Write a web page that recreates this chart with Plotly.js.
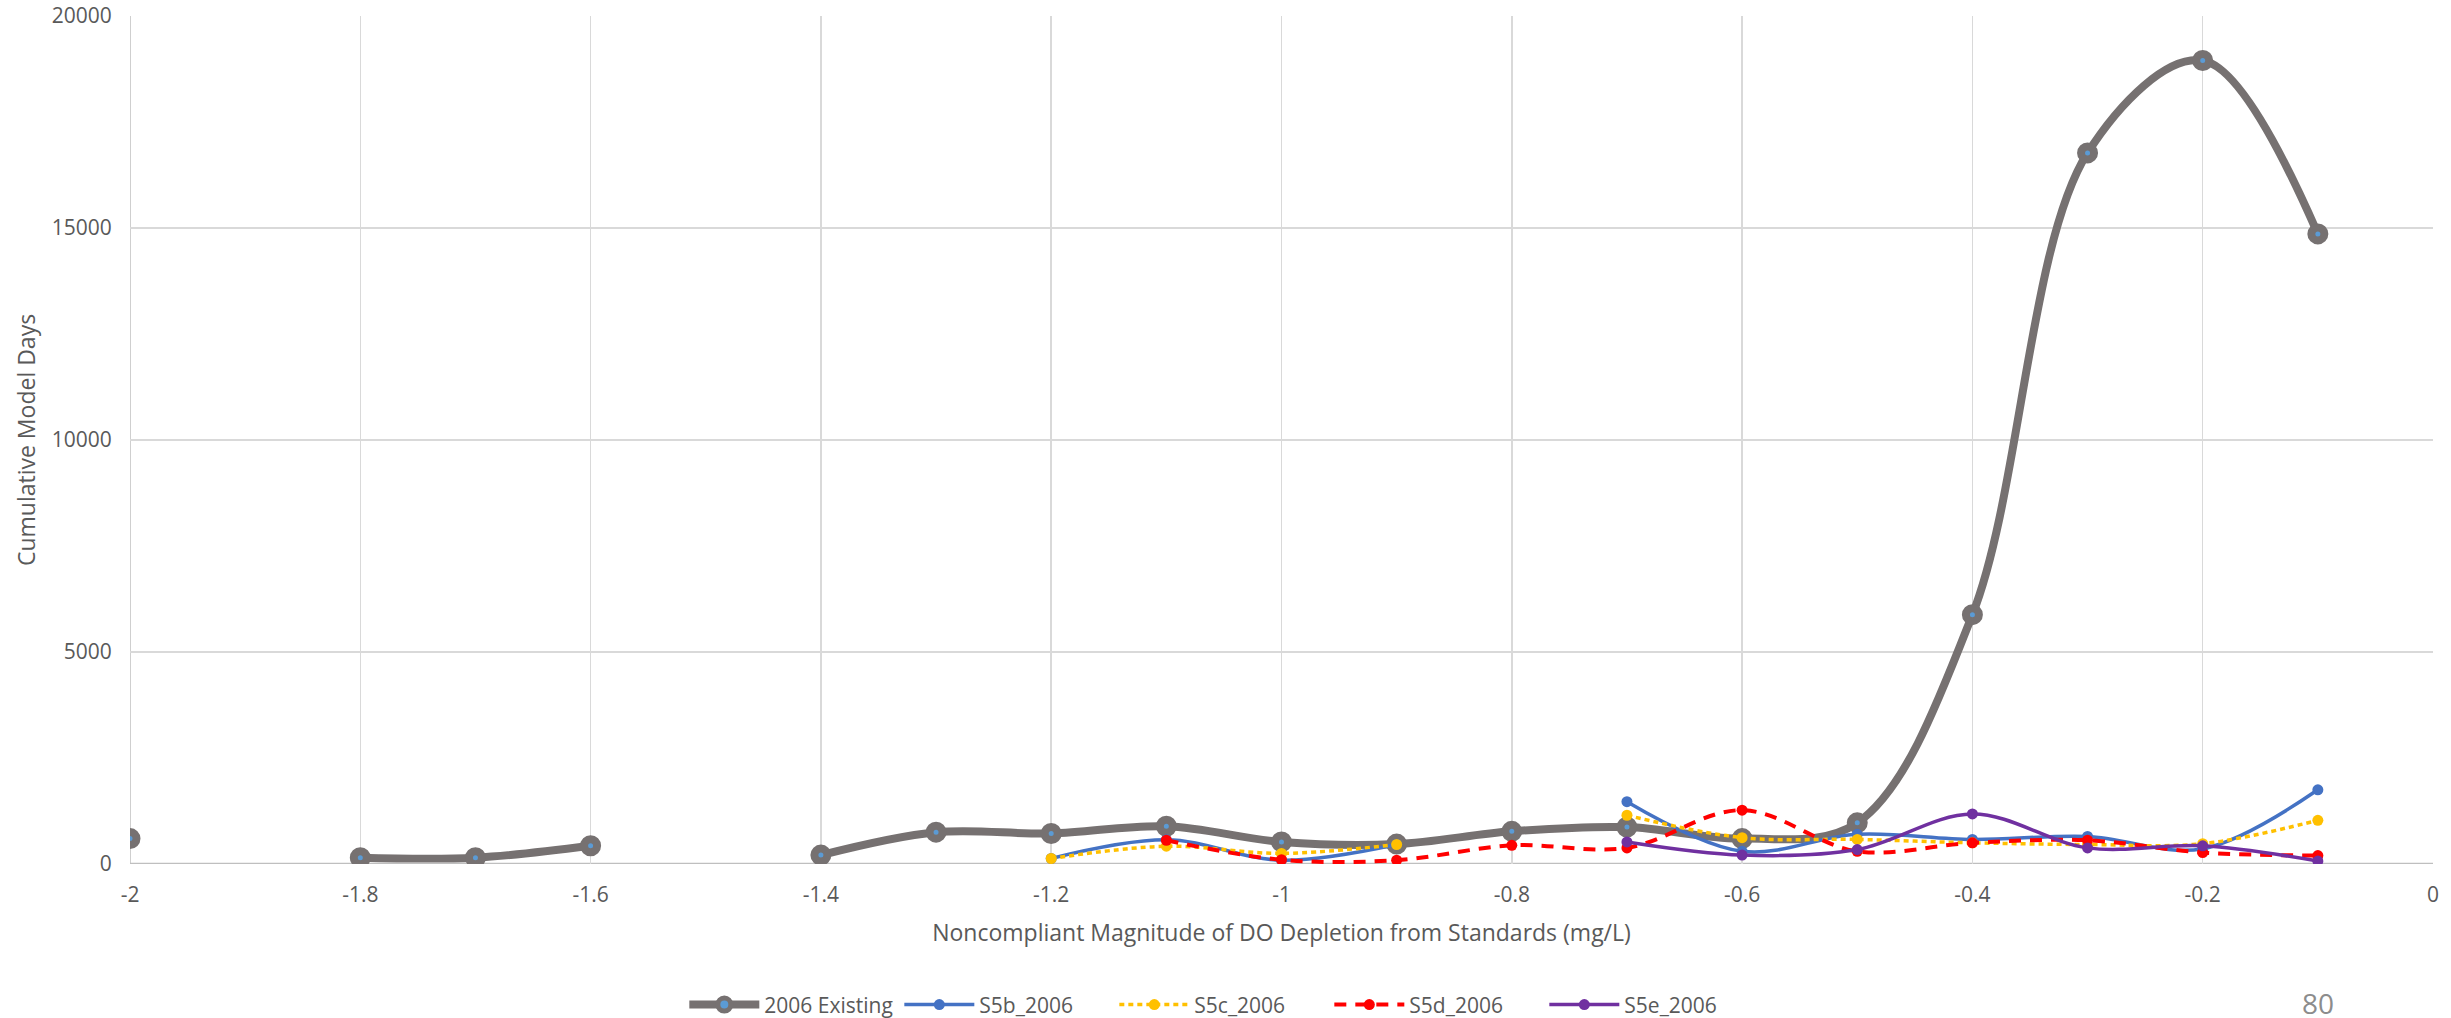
<!DOCTYPE html>
<html>
<head>
<meta charset="utf-8">
<script src="https://cdn.plot.ly/plotly-3.0.1.min.js"></script>
<style>html,body{margin:0;padding:0;background:#fff;}#chart{width:2451px;height:1018px;}</style>
</head>
<body>
<div id="chart"></div>
<script>
// Data (x = noncompliant magnitude, mg/L)
const xValues = [-2, -1.9, -1.8, -1.7, -1.6, -1.5, -1.4, -1.3, -1.2, -1.1, -1.0, -0.9, -0.8, -0.7, -0.6, -0.5, -0.4, -0.3, -0.2, -0.1];
const existing2006 = [600, null, 150, 150, 430, null, 210, 750, 720, 890, 520, 470, 770, 870, 600, 970, 5880, 16770, 18950, 14860];
const s5b2006 = [null, null, null, null, null, null, null, null, 130, 570, 90, 460, null, 1470, 300, 700, 580, 650, 360, 1750];
const s5c2006 = [null, null, null, null, null, null, null, null, 130, 420, 250, 460, null, 1150, 620, 580, 500, 460, 480, 1030];
const s5d2006 = [null, null, null, null, null, null, null, null, null, 560, 100, 90, 440, 380, 1270, 300, 500, 560, 270, 200];
const s5e2006 = [null, null, null, null, null, null, null, null, null, null, null, null, null, 520, 210, 340, 1180, 380, 430, 70];
const seriesNames = ["2006 Existing", "S5b_2006", "S5c_2006", "S5d_2006", "S5e_2006"];
const xTicks = [-2, -1.8, -1.6, -1.4, -1.2, -1, -0.8, -0.6, -0.4, -0.2, 0];
const xTickLabels = ["-2", "-1.8", "-1.6", "-1.4", "-1.2", "-1", "-0.8", "-0.6", "-0.4", "-0.2", "0"];
const yTicks = [0, 5000, 10000, 15000, 20000];
const yTickLabels = ["0", "5000", "10000", "15000", "20000"];

const FONT = "'Open Sans', 'Noto Sans', sans-serif";
const TEXT = "#595959";

const traces = [
  {
    x: xValues, y: existing2006, name: seriesNames[0], type: "scatter", mode: "lines+markers",
    line: {color: "#767171", width: 8, shape: "spline", smoothing: 1},
    marker: {size: 13, color: "#5b9bd5", line: {color: "#767171", width: 8}},
    connectgaps: false
  },
  {
    x: xValues, y: s5b2006, name: seriesNames[1], type: "scatter", mode: "lines+markers",
    line: {color: "#4472c4", width: 3.5, shape: "spline", smoothing: 1},
    marker: {size: 11, color: "#4472c4"},
    connectgaps: false
  },
  {
    x: xValues, y: s5c2006, name: seriesNames[2], type: "scatter", mode: "lines+markers",
    line: {color: "#ffc000", width: 3.5, shape: "spline", smoothing: 1, dash: "5px,4px"},
    marker: {size: 11, color: "#ffc000"},
    connectgaps: false
  },
  {
    x: xValues, y: s5d2006, name: seriesNames[3], type: "scatter", mode: "lines+markers",
    line: {color: "#ff0000", width: 4, shape: "spline", smoothing: 1, dash: "12px,9px"},
    marker: {size: 11, color: "#ff0000"},
    connectgaps: false
  },
  {
    x: xValues, y: s5e2006, name: seriesNames[4], type: "scatter", mode: "lines+markers",
    line: {color: "#7030a0", width: 3.5, shape: "spline", smoothing: 1},
    marker: {size: 11, color: "#7030a0"},
    connectgaps: false
  }
];

const layout = {
  width: 2451, height: 1018,
  paper_bgcolor: "#ffffff", plot_bgcolor: "#ffffff",
  margin: {l: 130, r: 18, t: 16, b: 154},
  font: {family: FONT, color: TEXT, size: 21},
  showlegend: true,
  legend: {
    orientation: "h", xref: "container", yref: "container",
    x: 0.4985, xanchor: "center", y: 0.0128, yanchor: "middle",
    font: {family: FONT, size: 21, color: TEXT}, traceorder: "normal",
    itemwidth: 70, entrywidth: 130, entrywidthmode: "pixels", tracegroupgap: 0
  },
  xaxis: {
    range: [-2, 0], tickvals: xTicks, ticktext: xTickLabels,
    showgrid: true, gridcolor: "#d9d9d9", gridwidth: 1.5,
    zeroline: false, showline: false, ticks: "outside", ticklen: 12, tickcolor: "rgba(0,0,0,0)",
    tickfont: {family: FONT, size: 21, color: TEXT},
    title: {text: "Noncompliant Magnitude of DO Depletion from Standards (mg/L)", font: {family: FONT, size: 23, color: TEXT}, standoff: 17},
    automargin: false
  },
  yaxis: {
    range: [0, 20000], tickvals: yTicks, ticktext: yTickLabels,
    showgrid: true, gridcolor: "#d9d9d9", gridwidth: 1.5,
    zeroline: false, showline: false, ticks: "outside", ticklen: 13, tickcolor: "rgba(0,0,0,0)",
    tickfont: {family: FONT, size: 21, color: TEXT},
    title: {text: "Cumulative Model Days", font: {family: FONT, size: 23, color: TEXT}, standoff: 9},
    automargin: false
  },
  shapes: [
    {type: "line", xref: "paper", yref: "y", x0: 0, x1: 1, y0: 0, y1: 0, line: {color: "#bfbfbf", width: 2.5}, layer: "below"},
    {type: "line", xref: "x", yref: "paper", x0: -2, x1: -2, y0: 0, y1: 1, line: {color: "#bfbfbf", width: 1.5}, layer: "below"}
  ],
  annotations: [
    {text: "80", xref: "paper", yref: "paper", x: 0.95, y: -0.164, xanchor: "center", yanchor: "middle", showarrow: false, font: {family: FONT, size: 28, color: "#8c8c8c"}}
  ]
};

Plotly.newPlot("chart", traces, layout, {displayModeBar: false, staticPlot: true});
</script>
</body>
</html>
